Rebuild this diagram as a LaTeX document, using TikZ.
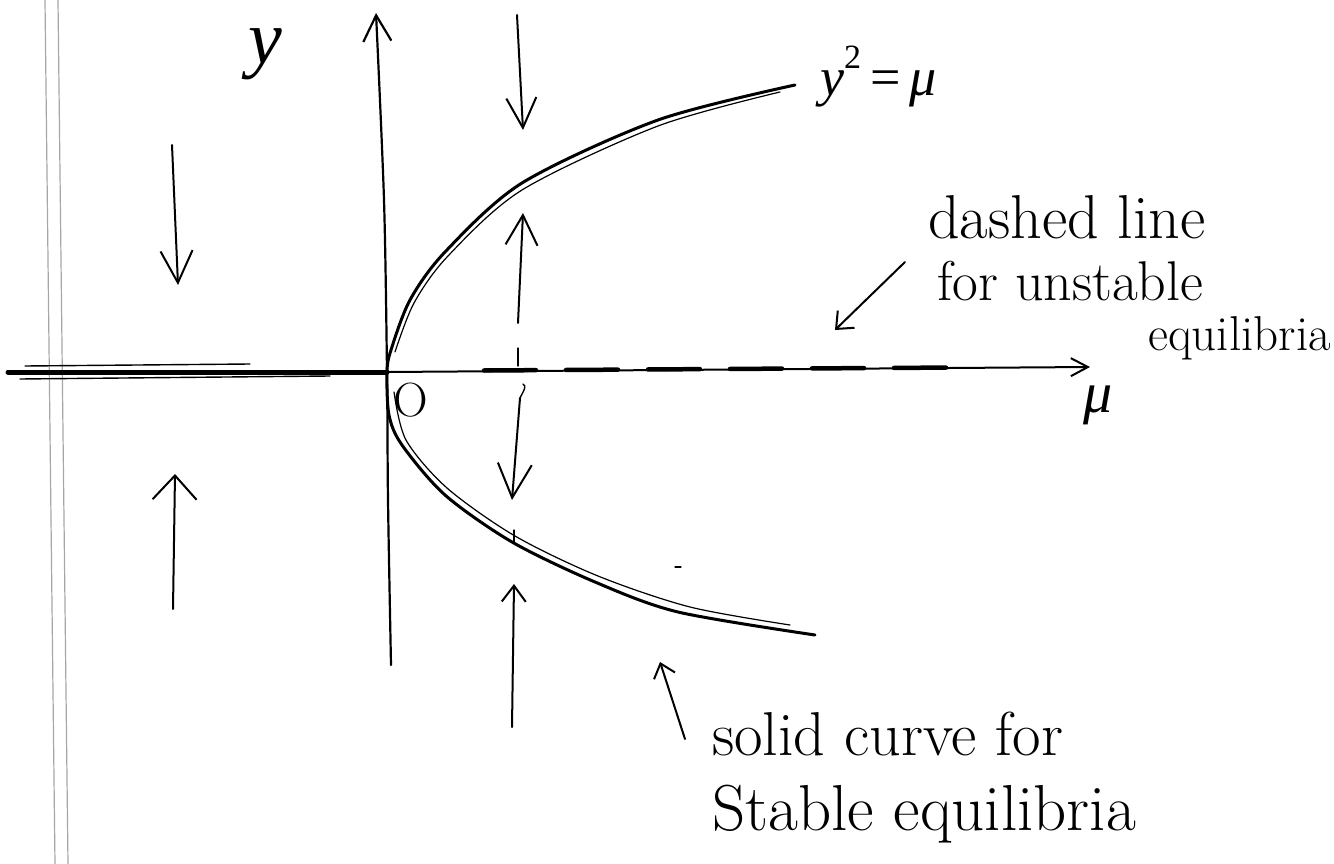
\documentclass[tikz,border=0pt]{standalone}
\usepackage{fontspec}
\newfontfamily\lsf{Liberation Serif}
\usetikzlibrary{arrows.meta}
\begin{document}
\begin{tikzpicture}[x=1pt,y=-1pt,
  ink/.style={line cap=round,line join=round,black},
  harrow/.style 2 args={ink,line width=2pt,-{Straight Barb[length=#1,width=#2]}},
  lbl/.style={inner sep=0pt,black},
  fs/.style={font=\fontsize{#1}{#1}\selectfont},
]
\useasboundingbox (0,0) rectangle (1334,864);
% page margin lines
\draw[gray!70,line width=1.2pt] (45,0) -- (55,864);
\draw[gray!70,line width=1.2pt] (58,0) -- (68,864);

% key points
\coordinate (O) at (387,372);
\coordinate (Lend) at (8,372);
\coordinate (Rtip) at (1090,367);
\coordinate (Ybot) at (391,665);
\coordinate (Ytop) at (376,13);

% stable branch (mu<0), thick
\draw[ink,line width=5pt] (Lend) -- (O);
\draw[ink,line width=1.4pt] (25,366) -- (250,364);
\draw[ink,line width=1.4pt] (20,379) -- (330,376);
% unstable branch (mu>0), axis with dashes
\draw[ink,line width=2pt,-{Straight Barb[length=17pt,width=18pt]}] (O) -- (Rtip);
\draw[ink,line width=4.5pt,dash pattern=on 52pt off 30pt] (484,370.5) -- (960,367.5);

% y axis
\draw[ink,line width=2.2pt,-{Straight Barb[length=26pt,width=28pt]}]
  plot[smooth] coordinates {(Ybot) (388,500) (O) (384,200) (Ytop)};

% parabola y^2 = mu (stable equilibria)
\draw[ink,line width=3pt] plot[smooth] coordinates {(795,85) (658,120) (522,183) (445,252) (410,300) (391,350) (O) (389,415) (402,445) (445,495) (512,542) (595,582) (678,612) (815,635)};
\draw[ink,line width=1.2pt] plot[smooth] coordinates {(780,92) (658,126) (522,190) (448,256) (414,303) (395,352)};
\draw[ink,line width=1.2pt] plot[smooth] coordinates {(394,392) (406,440) (447,488) (515,536) (598,576) (690,607) (790,625)};

% flow arrows
\coordinate (a1s) at (172,145); \coordinate (a1e) at (178,285);
\coordinate (a2s) at (173,609); \coordinate (a2e) at (175,474);
\coordinate (a3s) at (517,15);  \coordinate (a3e) at (523,130);
\coordinate (a4s) at (518,323); \coordinate (a4e) at (523,213);
\coordinate (a5s) at (520,398); \coordinate (a5e) at (512,500);
\coordinate (a6s) at (512,727); \coordinate (a6e) at (514,584);
\draw[harrow={32pt}{32pt}] (a1s) -- (a1e);
\draw[harrow={24pt}{44pt}] (a2s) -- (a2e);
\draw[harrow={30pt}{30pt}] (a3s) -- (a3e);
\draw[harrow={30pt}{32pt}] (a4s) -- (a4e);
\draw[harrow={34pt}{34pt}] (a5s) -- (a5e);
\draw[harrow={16pt}{24pt}] (a6s) -- (a6e);
\draw[ink,line width=1.4pt] (a5s) .. controls (524,390) and (527,386) .. (523,384);
\draw[ink,line width=1.2pt] (518,348) -- (518,366);
\draw[ink,line width=1.2pt] (514,530) -- (514,542);
\draw[ink,line width=1.2pt] (675,567) -- (681,567);

% labels
\node[lbl,fs=76] (ylab) at (265,54) {\lsf\itshape y};
\node[lbl,fs=54,anchor=base west] (curvelab) at (820,96) {\lsf\itshape y\raisebox{0.5em}{\fontsize{34}{34}\selectfont\upshape 2}\,\upshape=\,\itshape μ};
\node[lbl,fs=48] (olab) at (411,400) {O};
\node[lbl,fs=58] (mulab) at (1098,405) {\lsf\itshape μ};

\node[lbl,fs=62,anchor=base west] (t1) at (928,238) {dashed line};
\node[lbl,fs=56,anchor=base west] (t2) at (937,300) {for unstable};
\node[lbl,fs=49,anchor=base west] (t3) at (1148,350) {equilibria};
\node[lbl,fs=62,anchor=base west] (t4) at (712,755) {solid curve for};
\node[lbl,fs=65,anchor=base west] (t5) at (712,830) {Stable equilibria};

% annotation arrows
\coordinate (u1) at (905,262); \coordinate (u2) at (835,330);
\coordinate (s1) at (685,739); \coordinate (s2) at (660,662);
\draw[harrow={14pt}{24pt}] (u1) -- (u2);
\draw[harrow={13pt}{22pt}] (s1) -- (s2);
\end{tikzpicture}
\end{document}
